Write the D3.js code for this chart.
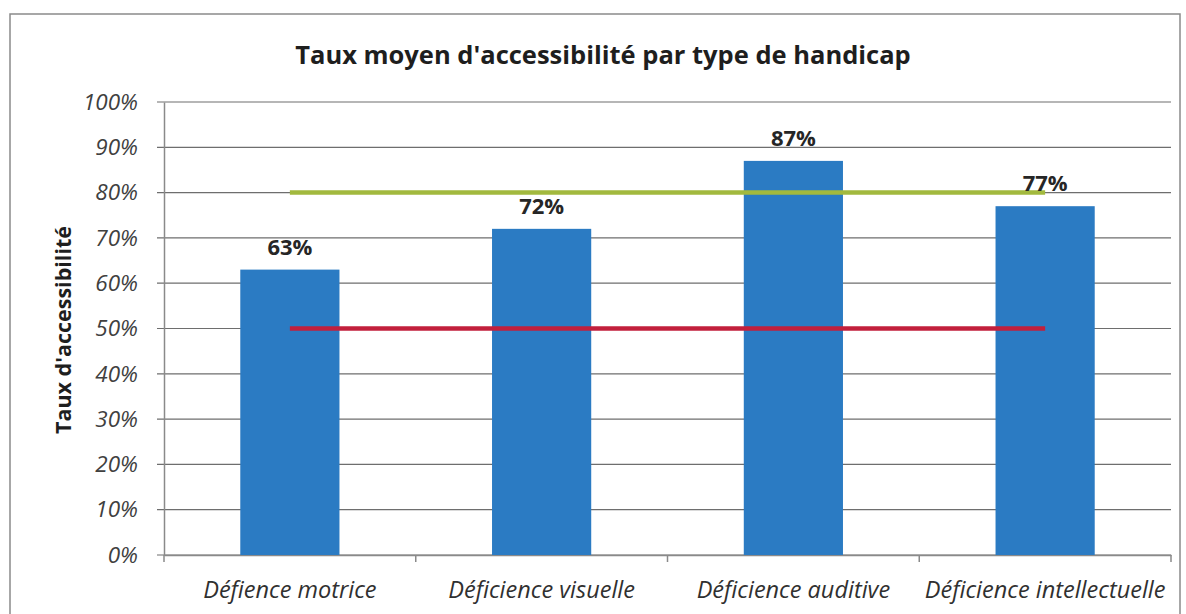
<!DOCTYPE html>
<html>
<head>
<meta charset="utf-8">
<script src="https://cdn.jsdelivr.net/npm/d3@7"></script>
<style>
  body { margin: 0; background: #fff; }
  text { font-family: "Open Sans", sans-serif; }
</style>
</head>
<body>
<div id="chart"></div>
<script>
let categories = ["Défience motrice", "Déficience visuelle", "Déficience auditive", "Déficience intellectuelle"];
let values = [63, 72, 87, 77];
let yTicks = [0, 10, 20, 30, 40, 50, 60, 70, 80, 90, 100];
let refRouge = [50, 50, 50, 50];
let refVert = [80, 80, 80, 80];

let svg = d3.select("#chart").append("svg")
  .attr("width", 1186)
  .attr("height", 614);

// cadre du graphique
svg.append("rect")
  .attr("x", 10).attr("y", 14)
  .attr("width", 1170).attr("height", 640)
  .attr("fill", "none")
  .attr("stroke", "#8a8a8a")
  .attr("stroke-width", 1.5);

let margin = {top: 102, left: 164, right: 1171, bottom: 555};

let x = d3.scaleBand()
  .domain(categories)
  .range([margin.left, margin.right])
  .paddingInner(0.606)
  .paddingOuter(0.303);

let y = d3.scaleLinear()
  .domain([0, 100])
  .range([margin.bottom, margin.top]);

// grille
svg.append("g")
  .selectAll("line")
  .data(yTicks)
  .enter().append("line")
  .attr("x1", margin.left - 7)
  .attr("x2", margin.right)
  .attr("y1", d => y(d))
  .attr("y2", d => y(d))
  .attr("stroke", "#6e6e6e")
  .attr("stroke-width", 1.2);

// axe y
let yAxis = d3.axisLeft(y)
  .tickValues(yTicks)
  .tickFormat(d => d + "%")
  .tickSize(0)
  .tickPadding(26);

let gy = svg.append("g")
  .attr("transform", "translate(" + margin.left + ",0)")
  .call(yAxis);
gy.select(".domain").attr("stroke", "#8a8a8a").attr("stroke-width", 1.5);
gy.selectAll("text")
  .style("font-size", "22.5px")
  .style("font-style", "italic")
  .attr("fill", "#404040");

// axe x
let xAxis = d3.axisBottom(x).tickSize(0).tickPadding(26);
let gx = svg.append("g")
  .attr("transform", "translate(0," + margin.bottom + ")")
  .call(xAxis);
gx.select(".domain").attr("stroke", "#8a8a8a").attr("stroke-width", 1.5);
gx.selectAll("text")
  .style("font-size", "23.5px")
  .style("font-style", "italic")
  .attr("fill", "#303030");

// petites graduations entre categories
let bounds = d3.range(categories.length + 1).map(i => margin.left + i * x.step());
svg.append("g")
  .selectAll("line")
  .data(bounds)
  .enter().append("line")
  .attr("x1", d => d).attr("x2", d => d)
  .attr("y1", margin.bottom).attr("y2", margin.bottom + 7)
  .attr("stroke", "#8a8a8a")
  .attr("stroke-width", 1.5);

// barres
svg.append("g")
  .selectAll("rect")
  .data(values)
  .enter().append("rect")
  .attr("x", (d, i) => x(categories[i]))
  .attr("y", d => y(d))
  .attr("width", x.bandwidth())
  .attr("height", d => y(0) - y(d))
  .attr("fill", "#2b7bc3");

// lignes de reference
let line = d3.line()
  .x((d, i) => x(categories[i]) + x.bandwidth() / 2)
  .y(d => y(d));

svg.append("path")
  .attr("d", line(refRouge))
  .attr("fill", "none")
  .attr("stroke", "#c21f3c")
  .attr("stroke-width", 4.5);

svg.append("path")
  .attr("d", line(refVert))
  .attr("fill", "none")
  .attr("stroke", "#a2b93e")
  .attr("stroke-width", 4.5);

// etiquettes
svg.append("g")
  .selectAll("text")
  .data(values)
  .enter().append("text")
  .attr("x", (d, i) => x(categories[i]) + x.bandwidth() / 2)
  .attr("y", d => y(d) - 15)
  .attr("text-anchor", "middle")
  .style("font-size", "22px")
  .style("font-weight", "bold")
  .attr("fill", "#262626")
  .text(d => d + "%");

// titre
svg.append("text")
  .attr("x", 603)
  .attr("y", 64)
  .attr("text-anchor", "middle")
  .style("font-size", "25.5px")
  .style("font-weight", "bold")
  .attr("fill", "#1e1e1e")
  .text("Taux moyen d'accessibilité par type de handicap");

svg.append("text")
  .attr("transform", "translate(71,330) rotate(-90)")
  .attr("text-anchor", "middle")
  .style("font-size", "21.5px")
  .style("font-weight", "bold")
  .attr("fill", "#1e1e1e")
  .text("Taux d'accessibilité");
</script>
</body>
</html>
